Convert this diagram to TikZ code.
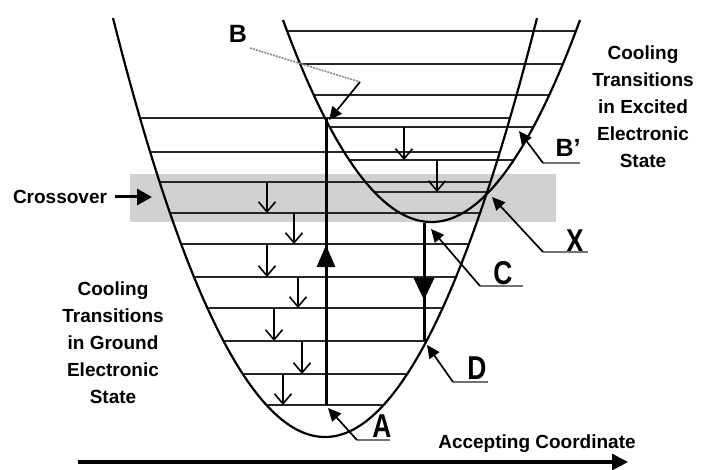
\documentclass[tikz,border=0pt]{standalone}
\usepackage{fontspec}
\setmainfont{Liberation Sans}
\usetikzlibrary{arrows.meta}
\tikzset{
  curve/.style={line width=2.2pt,black},
  level/.style={line width=2.2pt,black!85},
  trans/.style={line width=3pt,black},
  cool/.style={line width=1.6pt,black,-{Straight Barb[length=10pt,width=17pt,line width=1.6pt]}},
  ptr/.style={line width=1.7pt,black,-{Triangle[length=13pt,width=12pt]}},
  uline/.style={line width=1.5pt,black!55},
  txt/.style={font=\fontsize{19}{27}\selectfont\bfseries,align=center,inner sep=0pt},
  biglbl/.style={font=\fontsize{33}{33}\selectfont\bfseries,inner sep=0pt},
  midlbl/.style={font=\fontsize{25}{25}\selectfont\bfseries,inner sep=0pt},
}
\begin{document}
\begin{tikzpicture}[x=1pt,y=-1pt]
\useasboundingbox (0,0) rectangle (703,470);
% crossover band
\fill[black!18] (130,174) rectangle (556,222);
% ground levels
\foreach \yy in {118,152,182,213,244,277,308,341,374,405}{
  \pgfmathsetmacro\hw{sqrt(437-\yy)/0.09654}
  \draw[level] ({325-\hw},\yy) -- ({325+\hw},\yy);
}
% excited levels
\foreach \yy in {31,64,95,127,160,192}{
  \pgfmathsetmacro\hw{sqrt(222-\yy)/0.09571}
  \draw[level] ({431.5-\hw},\yy) -- ({431.5+\hw},\yy);
}
% potential curves
\draw[curve] plot[domain=113:537,samples=140,smooth] (\x,{437-(0.09654*(\x-325))*(0.09654*(\x-325))});
\draw[curve] plot[domain=283:580,samples=140,smooth] (\x,{222-(0.09571*(\x-431.5))*(0.09571*(\x-431.5))});
% points
\coordinate (A) at (326,405);
\coordinate (B) at (326,118);
\coordinate (C) at (424,223);
\coordinate (D) at (424,341);
% vertical transitions
\draw[trans] (A) -- (B);
\draw[trans,-{Triangle[length=22pt,width=18pt]}] (326,270) -- (326,245);
\draw[trans] (C) -- (D);
\draw[trans,-{Triangle[length=22pt,width=20pt]}] (424,276) -- (424,300);
% cooling transitions ground
\foreach \xx/\ya/\yb in {267/182/213,294/213/244,267/244/277,298/277/308,274/308/341,302/341/374,283/374/405}{
  \draw[cool] (\xx,\ya) -- (\xx,\yb);
}
% cooling transitions excited
\draw[cool] (404,127) -- (404,160);
\draw[cool] (437,160) -- (437,192);
% crossover label
\node[txt] (cross) at (60,197) {Crossover};
\coordinate (crossTip) at (152,197);
\draw[line width=3pt,-{Triangle[length=15pt,width=16pt]}] (115,197) -- (crossTip);
% side texts
\node[txt,anchor=north] (gtext) at (113,282) {Cooling\\Transitions\\in Ground\\Electronic\\State};
\node[txt,anchor=north] (etext) at (643,46) {Cooling\\Transitions\\in Excited\\Electronic\\State};
% axis
\node[txt,anchor=base] (axlbl) at (537,448) {Accepting Coordinate};
\coordinate (ax0) at (78,462);
\coordinate (ax1) at (628,462);
\draw[line width=3.2pt,-{Triangle[length=16pt,width=16pt]}] (ax0) -- (ax1);
% label A
\node[biglbl] (Al) at (382,426) {\scalebox{0.8}[1]{A}};
\coordinate (Au) at (357,440);
\draw[uline] (Au) -- (390,440);
\draw[ptr] (Au) -- (328,408);
% label D
\node[biglbl] (Dl) at (477,368) {\scalebox{0.8}[1]{D}};
\coordinate (Du) at (453,382);
\draw[uline] (Du) -- (488,382);
\draw[ptr] (Du) -- (427,345);
% label C
\node[biglbl] (Cl) at (503,273) {\scalebox{0.8}[1]{C}};
\coordinate (Cu) at (480,286);
\draw[uline] (Cu) -- (523,286);
\draw[ptr] (Cu) -- (431,229);
% label X
\node[biglbl] (Xl) at (575,241) {\scalebox{0.8}[1]{X}};
\coordinate (Xu) at (543,252);
\draw[uline] (Xu) -- (588,252);
\draw[ptr] (Xu) -- (492,197);
% label B'
\node[midlbl] (Bpl) at (568,148) {B\char"0027};
\coordinate (Bpu) at (543,163);
\draw[uline] (Bpu) -- (580,163);
\draw[ptr] (Bpu) -- (519,131);
% label B
\node[midlbl] (Bl) at (238,34) {B};
\coordinate (Bd0) at (250,48);
\coordinate (Bd1) at (360,82);
\draw[line width=1.6pt,black!45,dash pattern=on 2pt off 1pt] (Bd0) -- (Bd1);
\draw[ptr] (Bd1) -- (329,120);
\end{tikzpicture}
\end{document}
